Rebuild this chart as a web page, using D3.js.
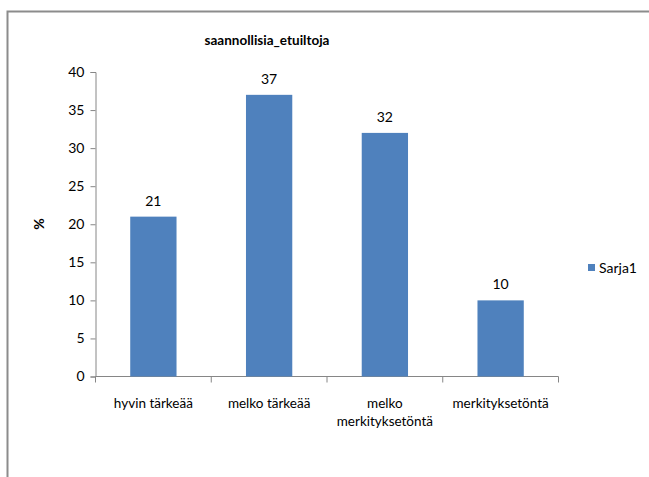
<!DOCTYPE html>
<html>
<head>
<meta charset="utf-8">
<script src="https://cdn.jsdelivr.net/npm/d3@7"></script>
<style>
  html, body { margin: 0; padding: 0; background: #fff; }
  svg { display: block; }
  text { font-family: Lato, "Open Sans", sans-serif; fill: #000; }
</style>
</head>
<body>
<svg id="chart" width="649" height="477"></svg>
<script>
// Chart data
const categories = [["hyvin tärkeää"], ["melko tärkeää"], ["melko", "merkityksetöntä"], ["merkityksetöntä"]];
const values = [21, 37, 32, 10];
const yTicks = [0, 5, 10, 15, 20, 25, 30, 35, 40];
const seriesName = "Sarja1";
const chartTitle = "saannollisia_etuiltoja";
const yTitle = "%";

const svg = d3.select("#chart");
const barColor = "#4f81bd";
const axisColor = "#868686";

// Outer chart frame
svg.append("rect")
  .attr("x", 7.5).attr("y", 11.5)
  .attr("width", 660).attr("height", 480)
  .attr("fill", "none").attr("stroke", "#8c8c8c").attr("stroke-width", 2);

const plot = { left: 95.5, right: 558.5, top: 72, bottom: 376.5 };

const x = d3.scaleBand()
  .domain(d3.range(categories.length))
  .range([plot.left, plot.right])
  .paddingInner(0.6).paddingOuter(0.3);

const step = (plot.right - plot.left) / categories.length;

const y = d3.scaleLinear().domain([0, 40]).range([plot.bottom, plot.top]);

// Title
svg.append("text")
  .attr("x", 267).attr("y", 45)
  .attr("text-anchor", "middle")
  .style("font-size", "13.5px").style("font-weight", "bold")
  .text(chartTitle);

// Y axis
const yAxis = svg.append("g")
  .attr("transform", `translate(${plot.left},0)`)
  .call(d3.axisLeft(y).tickValues(yTicks).tickSize(5).tickPadding(6));
yAxis.selectAll("path, line").attr("stroke", axisColor);
yAxis.selectAll("text").style("font-size", "14px").style("font-family", "Lato, sans-serif").attr("fill", "#000");

// Y title
svg.append("text")
  .attr("transform", "translate(44,224) rotate(-90)")
  .attr("text-anchor", "middle")
  .style("font-size", "14px").style("font-weight", "bold")
  .text(yTitle);

// X axis line and category ticks
svg.append("line")
  .attr("x1", plot.left).attr("x2", plot.right)
  .attr("y1", plot.bottom).attr("y2", plot.bottom)
  .attr("stroke", axisColor);
svg.selectAll(".cat-tick")
  .data(d3.range(categories.length + 1))
  .enter().append("line")
  .attr("x1", i => plot.left + i * step).attr("x2", i => plot.left + i * step)
  .attr("y1", plot.bottom).attr("y2", plot.bottom + 6)
  .attr("stroke", axisColor);

// Bars
svg.selectAll(".bar")
  .data(values)
  .enter().append("rect")
  .attr("x", (d, i) => x(i))
  .attr("width", x.bandwidth())
  .attr("y", d => y(d))
  .attr("height", d => y(0) - y(d))
  .attr("fill", barColor);

// Value labels
svg.selectAll(".val")
  .data(values)
  .enter().append("text")
  .attr("x", (d, i) => x(i) + x.bandwidth() / 2)
  .attr("y", d => y(d) - 11)
  .attr("text-anchor", "middle")
  .style("font-size", "14px")
  .text(d => d);

// Category labels
const catLabels = svg.selectAll(".cat")
  .data(categories)
  .enter().append("text")
  .attr("x", (d, i) => x(i) + x.bandwidth() / 2)
  .attr("y", 408)
  .attr("text-anchor", "middle")
  .style("font-size", "13.5px");
catLabels.selectAll("tspan")
  .data(d => d)
  .enter().append("tspan")
  .attr("x", function () { return d3.select(this.parentNode).attr("x"); })
  .attr("dy", (d, i) => i === 0 ? 0 : 18)
  .text(d => d);

// Legend
svg.append("rect")
  .attr("x", 588).attr("y", 264)
  .attr("width", 7).attr("height", 7)
  .attr("fill", barColor);
svg.append("text")
  .attr("x", 599).attr("y", 272.5)
  .style("font-size", "14px")
  .text(seriesName);
</script>
</body>
</html>
